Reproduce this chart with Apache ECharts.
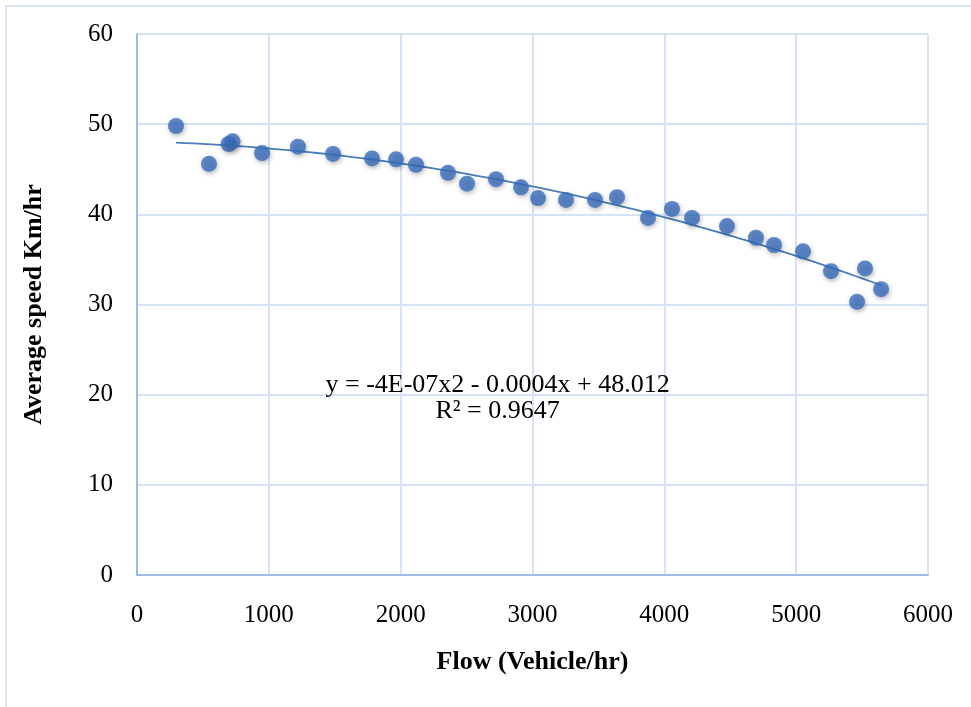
<!DOCTYPE html>
<html>
<head>
<meta charset="utf-8">
<script src="https://cdn.jsdelivr.net/npm/echarts@6/dist/echarts.min.js"></script>
<style>
html,body{margin:0;padding:0;background:#fff;}
#chart{width:971px;height:707px;}
</style>
</head>
<body>
<div id="chart"></div>
<script>
// Observed data: flow (vehicle/hr) and average speed (km/hr)
const flow = [296, 546, 695, 725, 948, 1221, 1487, 1783, 1965, 2116, 2359, 2503, 2723, 2913, 3042, 3254, 3474, 3641, 3876, 4058, 4210, 4475, 4695, 4832, 5052, 5264, 5522, 5462, 5644];
const speed = [49.8, 45.6, 47.8, 48.1, 46.8, 47.5, 46.7, 46.2, 46.1, 45.5, 44.6, 43.4, 43.9, 43.0, 41.8, 41.6, 41.6, 41.9, 39.6, 40.6, 39.6, 38.7, 37.4, 36.6, 35.9, 33.7, 34.0, 30.3, 31.7];
const xTicks = [0, 1000, 2000, 3000, 4000, 5000, 6000];
const yTicks = [0, 10, 20, 30, 40, 50, 60];
const equationText = ['y = -4E-07x2 - 0.0004x + 48.012', 'R² = 0.9647'];

// Polynomial (order 2) least-squares trendline computed from the observed points
function quadFit(xs, ys) {
  let S = [0,0,0,0,0], T = [0,0,0];
  for (let i = 0; i < xs.length; i++) {
    const x = xs[i] / 1000, y = ys[i];
    let p = 1;
    for (let k = 0; k < 5; k++) { S[k] += p; if (k < 3) T[k] += p * y; p *= x; }
  }
  const A = [[S[0],S[1],S[2],T[0]],[S[1],S[2],S[3],T[1]],[S[2],S[3],S[4],T[2]]];
  for (let i = 0; i < 3; i++) {
    for (let j = i + 1; j < 3; j++) {
      const f = A[j][i] / A[i][i];
      for (let k = i; k < 4; k++) A[j][k] -= f * A[i][k];
    }
  }
  const c = [0,0,0];
  for (let i = 2; i >= 0; i--) {
    let s = A[i][3];
    for (let k = i + 1; k < 3; k++) s -= A[i][k] * c[k];
    c[i] = s / A[i][i];
  }
  return x => { const u = x / 1000; return c[0] + c[1] * u + c[2] * u * u; };
}
const fit = quadFit(flow, speed);
const xmin = Math.min(...flow), xmax = Math.max(...flow);
const trend = [];
for (let i = 0; i <= 80; i++) {
  const x = xmin + (xmax - xmin) * i / 80;
  trend.push([x, fit(x)]);
}

const chart = echarts.init(document.getElementById('chart'));
const serif = '"Liberation Serif", "Times New Roman", serif';
chart.setOption({
  animation: false,
  backgroundColor: '#ffffff',
  grid: { left: 137, right: 43, top: 34, bottom: 132 },
  xAxis: {
    type: 'value', min: 0, max: 6000, interval: 1000,
    name: 'Flow (Vehicle/hr)', nameLocation: 'middle', nameGap: 74,
    nameTextStyle: { fontFamily: serif, fontWeight: 'bold', fontSize: 26, color: '#000' },
    axisLine: { show: true, lineStyle: { color: '#9dbbe6', width: 2 } },
    axisTick: { show: false },
    axisLabel: { fontFamily: serif, fontSize: 25, color: '#000', margin: 28,
      formatter: v => xTicks.includes(v) ? String(v) : '' },
    splitLine: { show: true, lineStyle: { color: '#d6e3f4', width: 2 } }
  },
  yAxis: {
    type: 'value', min: 0, max: 60, interval: 10,
    name: 'Average speed Km/hr', nameLocation: 'middle', nameGap: 90, nameRotate: 90,
    nameTextStyle: { fontFamily: serif, fontWeight: 'bold', fontSize: 26, color: '#000' },
    axisLine: { show: true, lineStyle: { color: '#9dbbe6', width: 2 } },
    axisTick: { show: false },
    axisLabel: { fontFamily: serif, fontSize: 25, color: '#000', margin: 24,
      formatter: v => yTicks.includes(v) ? String(v) : '' },
    splitLine: { show: true, lineStyle: { color: '#d6e3f4', width: 2 } }
  },
  series: [
    {
      type: 'line', data: trend, showSymbol: false, smooth: false, z: 2,
      lineStyle: { color: '#4a7ebb', width: 1.8 }
    },
    {
      type: 'scatter', data: flow.map((x, i) => [x, speed[i]]), symbolSize: 16, z: 3,
      itemStyle: { color: '#386dbd', shadowBlur: 5, shadowColor: 'rgba(0,0,0,0.35)', shadowOffsetX: 1, shadowOffsetY: 2 }
    }
  ]
});
// Equation label placed in data coordinates
const p1 = chart.convertToPixel({ gridIndex: 0 }, [2735, 21.0]);
const p2 = chart.convertToPixel({ gridIndex: 0 }, [2735, 18.2]);
chart.setOption({
  graphic: [
    { id: 'frame', type: 'rect', x: 6, y: 6, shape: { width: 1100, height: 800 }, style: { fill: 'none', stroke: '#dce6f2', lineWidth: 2 }, silent: true, z: -1 },
    { id: 'eq1', type: 'text', x: p1[0], y: p1[1], style: { text: equationText[0], font: '26px ' + serif, fill: '#000', align: 'center', verticalAlign: 'middle' } },
    { id: 'eq2', type: 'text', x: p2[0], y: p2[1], style: { text: equationText[1], font: '26px ' + serif, fill: '#000', align: 'center', verticalAlign: 'middle' } }
  ]
});
</script>
</body>
</html>
